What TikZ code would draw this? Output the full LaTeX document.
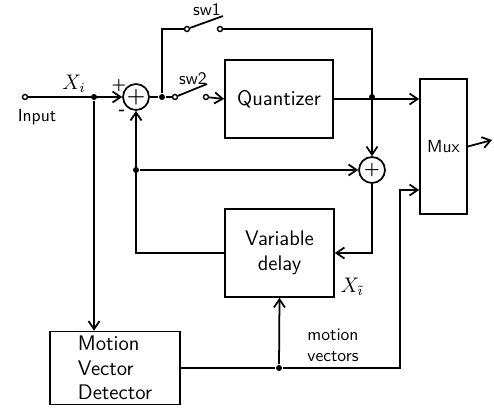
\documentclass[tikz,border=0pt]{standalone}
\usepackage{amsmath,amssymb}
\usepackage{tikz}
\usetikzlibrary{arrows.meta,positioning,calc}

\begin{document}
\begin{tikzpicture}[x=0.02cm,y=-0.02cm,font=\sffamily,line width=1pt,
  blk/.style={draw,inner sep=2pt,align=center,font=\sffamily\large},
  adder/.style={draw,circle,minimum size=0.52cm,inner sep=0pt,font=\large\bfseries},
  contact/.style={draw,circle,fill=white,minimum size=0.1cm,inner sep=0pt,line width=0.8pt},
  dot/.style={circle,fill,minimum size=0.12cm,inner sep=0pt},
  ar/.style={-{Straight Barb[length=1.6mm,width=2.2mm]}},
  lbl/.style={font=\sffamily,inner sep=1pt},
]
\useasboundingbox (0,0) rectangle (494,410);

% blocks
\node[blk,minimum width=2.16cm,minimum height=1.56cm] (quant) at (279,99) {Quantizer};
\node[blk,minimum width=0.94cm,minimum height=2.7cm,font=\sffamily] (mux) at (443.5,146.5) {Mux};
\node[blk,minimum width=2.18cm,minimum height=1.76cm] (delay) at (279.5,253) {Variable\\delay};
\node[blk,minimum width=2.6cm,minimum height=1.46cm,align=left] (mvd) at (115,368) {Motion\\Vector\\Detector};

% adders
\node[adder] (add1) at (136,97) {+};
\node[adder,font=\bfseries] (add2) at (372,170) {+};

% terminals, switches and junctions
\node[contact] (in) at (25,97) {};
\node[dot] (jin) at (94,97) {};
\node[dot] (jsw) at (162,97) {};
\node[contact] (sw2a) at (175,97) {};
\node[contact] (sw2b) at (206,97) {};
\node[contact] (sw1a) at (187,29) {};
\node[contact] (sw1b) at (220,29) {};
\coordinate (sw2t) at (207,84);
\coordinate (sw1t) at (223,16);
\node[dot] (jq) at (372,97) {};
\node[dot] (jfb) at (136,170) {};
\node[dot] (jmv) at (279,368) {};
\coordinate (mvbend) at (400,190);
\coordinate (out) at (492,140);

% signal path
\draw[ar] (in) -- (add1.west);
\draw[ar] (jin) -- (jin |- mvd.north);
\draw (add1.east) -- (jsw) -- (sw2a);
\draw (sw2a) -- (sw2t);
\draw[ar] (sw2b) -- (quant.west);
\draw (jsw) |- (sw1a);
\draw (sw1a) -- (sw1t);
\draw[ar] (sw1b) -| (add2.north);
\draw[ar] (quant.east) -- (quant.east -| mux.west);
\draw[ar] (mux.east) -- (out);

% prediction loop
\draw[ar] (delay.west) -| (add1.south);
\draw[ar] (jfb) -- (add2.west);
\draw[ar] (add2.south) |- (delay.east);

% motion vectors
\draw (mvd.east) -- (jmv);
\draw[ar] (jmv) -- (delay.south);
\draw[ar] (jmv) -| (mvbend) -- (mvbend -| mux.west);

% labels
\node[lbl,font=\large] (xi) at (74,84) {$X_i$};
\node[lbl] (inlbl) at (37,117) {Input};
\node[lbl,font=\small\bfseries] (plus) at (119,86) {+};
\node[lbl,font=\small\bfseries] (minus) at (122,112) {-};
\node[lbl] (sw1lbl) at (207,10) {sw1};
\node[lbl] (sw2lbl) at (193,79) {sw2};
\node[lbl,font=\large] (xt) at (352,287) {$X_{\tilde{\imath}}$};
\node[lbl,align=left] (mvlbl) at (333,345) {motion\\vectors};
\end{tikzpicture}
\end{document}
